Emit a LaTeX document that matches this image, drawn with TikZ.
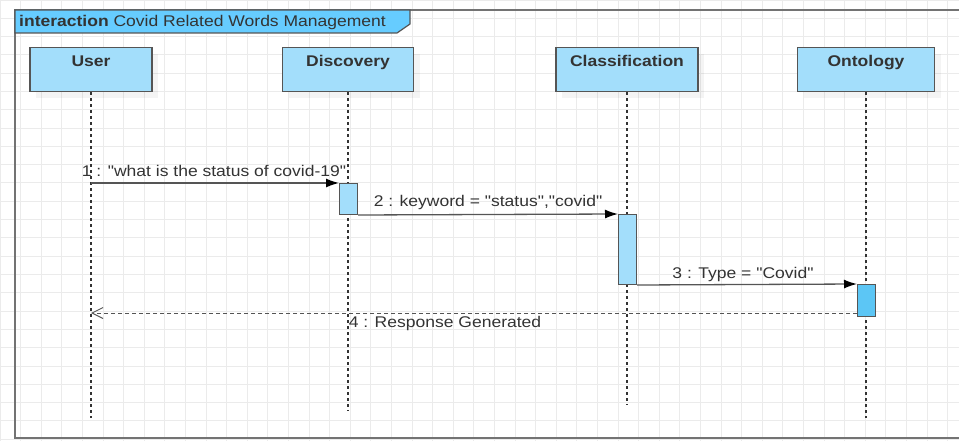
\documentclass[tikz,border=0pt]{standalone}
\usepackage{fontspec}
\setmainfont{Liberation Sans}[FakeStretch=1.13, Ligatures=TeXOff]
\usetikzlibrary{arrows.meta,shadows}
\definecolor{lineblue}{HTML}{A3DEFB}
\definecolor{tabblue}{HTML}{66CCFF}
\definecolor{actblue}{HTML}{5CC6F5}
\definecolor{ink}{HTML}{333333}
\definecolor{edge}{HTML}{555555}
\newcommand{\Txt}{\fontsize{15.5}{18}\selectfont}

\begin{document}
\begin{tikzpicture}[>={Latex[length=13pt,width=9pt,color=black]}, x=1pt, y=-1pt,
    box/.style={draw=edge, line width=1.2pt, fill=lineblue, anchor=north,
      minimum height=44pt, inner ysep=4pt, text height=15pt, text depth=21pt,
      font=\Txt\bfseries, text=ink,
      drop shadow={shadow xshift=6pt, shadow yshift=-6pt, fill=black, opacity=.045}},
    act/.style={draw=edge, line width=1pt, fill=lineblue, anchor=north west,
      minimum width=18pt, inner sep=0pt},
    lbl/.style={anchor=base, font=\Txt, text=ink, inner sep=0pt},
    life/.style={black!80, line width=1.1pt, dash pattern=on 3pt off 3pt},
    msg/.style={->, edge, line width=1.3pt},
    reply/.style={-{Straight Barb[length=11pt,width=11pt]}, edge, line width=1pt,
      dash pattern=on 4pt off 3pt}]

    \useasboundingbox (0,0) rectangle (959,441);
    \clip (0,0) rectangle (959,441);
    \draw[black!8, line width=1pt, xstep=20.6pt, ystep=18.3pt] (0,0) grid (959,441);

    \draw[black!55, line width=2pt] (975,10) -- (15,10) -- (15,438) -- (975,438);
    \draw[draw=edge, line width=1.2pt, fill=tabblue] (15,10) -- (410,10) -- (410,24) -- (397,33) -- (15,33) -- cycle;
    \draw (19,27) node[lbl, anchor=base west] (title) {\textbf{interaction} Covid Related Words Management};

    \draw(91,47) node[box, minimum width=122pt] (user) {User};
    \draw(348,47) node[box, minimum width=131pt] (disc) {Discovery};
    \draw(627,47) node[box, minimum width=142pt] (cls) {Classification};
    \draw(866,47) node[box, minimum width=137pt] (onto) {Ontology};

    \coordinate (ue) at (91,418);
    \coordinate (de) at (348,411);
    \coordinate (ce) at (627,405);
    \coordinate (oe) at (866,418);
    \draw[life] (user.south) -- (ue);
    \draw[life] (disc.south) -- (de);
    \draw[life] (cls.south) -- (ce);
    \draw[life] (onto.south) -- (oe);

    \draw(339,183) node[act, minimum height=31pt] (da) {};
    \draw(618,214) node[act, minimum height=70pt] (ca) {};
    \draw(857,284) node[act, minimum height=32pt, fill=actblue] (oa) {};
    \coordinate (ra) at ([yshift=4pt]oa.south west);

    \draw[msg] (user |- da.north west) -- (da.north west);
    \draw[msg] (da.south east) -- (ca.north west);
    \draw[msg] (ca.south east) -- (oa.north west);
    \draw[reply] (ra) -- (user |- ra);

    \draw(214,177) node[lbl] (m1) {1 : "what is the status of covid-19"};
    \draw(488,207) node[lbl] (m2) {2 : keyword = "status","covid"};
    \draw(743,278) node[lbl] (m3) {3 : Type = "Covid"};
    \draw(445,327) node[lbl] (m4) {4 : Response Generated};

\end{tikzpicture}
\end{document}
